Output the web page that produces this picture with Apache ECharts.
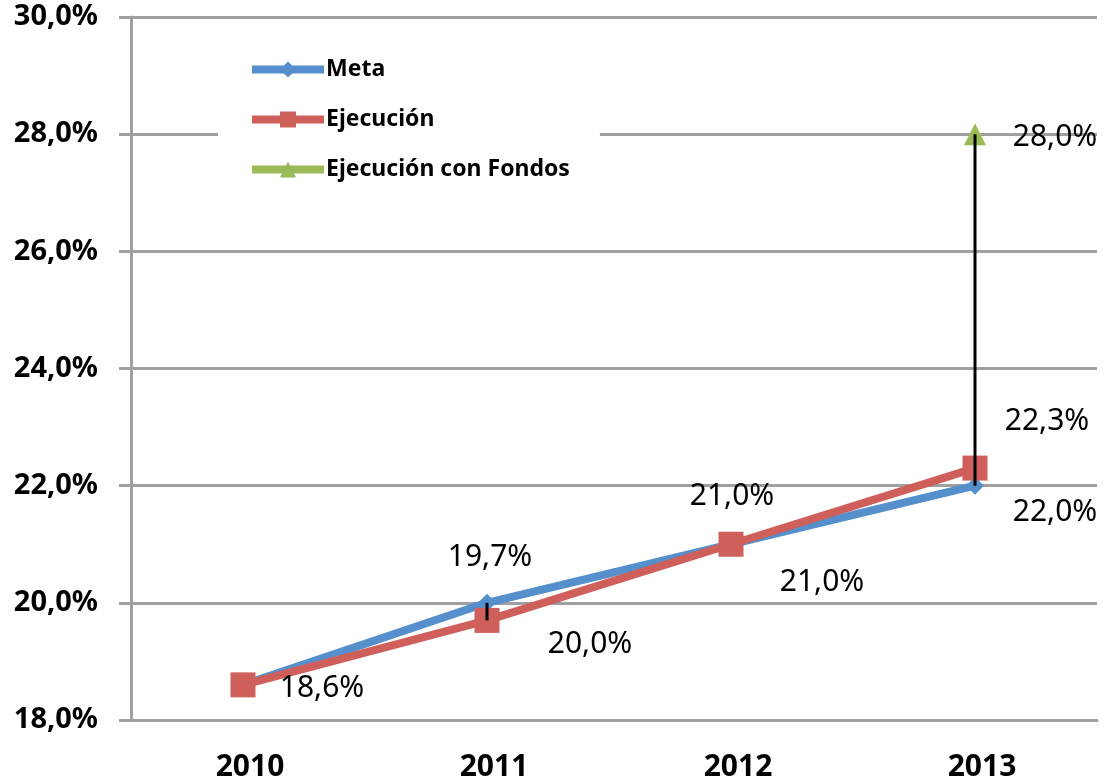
<!DOCTYPE html>
<html>
<head>
<meta charset="utf-8">
<script src="https://cdn.jsdelivr.net/npm/echarts@6/dist/echarts.min.js"></script>
<style>
  html, body { margin: 0; padding: 0; background: #fff; }
  #chart { width: 1118px; height: 782px; }
</style>
</head>
<body>
<div id="chart"></div>
<script>
// datos
const years = ['2010', '2011', '2012', '2013'];
const meta = [18.6, 20.0, 21.0, 22.0];
const ejecucion = [18.6, 19.7, 21.0, 22.3];
const conFondos = [null, null, null, 28.0];
const yMin = 18, yMax = 30, yStep = 2;

const fmt = v => v.toFixed(1).replace('.', ',') + '%';

// label placement (offset from point, px)
const metaLabelOff = [null, [103, 42], [91, 38], [80, 27]];
const ejecLabelOff = [[79, 4], [3, -63], [1, -48], [72, -47]];
const fondosLabelOff = [null, null, null, [80, 3]];

const labelStyle = {
  show: true,
  position: 'inside',
  color: '#000',
  fontSize: 30,
  fontFamily: 'Noto Sans',
  formatter: p => fmt(p.value)
};

function buildData(values, offsets) {
  return values.map((v, i) => {
    if (v == null) return null;
    const off = offsets[i];
    return {
      value: v,
      label: off ? Object.assign({}, labelStyle, { offset: off }) : { show: false }
    };
  });
}

// high-low line per category
const hiLo = years.map((y, i) => {
  const vals = [meta[i], ejecucion[i], conFondos[i]].filter(v => v != null);
  return [i, Math.min(...vals), Math.max(...vals)];
});

const myChart = echarts.init(document.getElementById('chart'));
const option = {
  animation: false,
  textStyle: { fontFamily: 'Noto Sans' },
  grid: { left: 121, right: 21, top: 17, bottom: 62 },
  legend: {
    orient: 'vertical',
    left: 218,
    top: 46,
    padding: [12, 30, 12, 30],
    backgroundColor: '#fff',
    itemWidth: 72,
    itemHeight: 20,
    itemGap: 27,
    lineStyle: { width: 8 },
    textStyle: { fontSize: 23, fontWeight: 'bold', color: '#000', fontFamily: 'Noto Sans', padding: [0, 0, 0, -3] },
    data: ['Meta', 'Ejecución', 'Ejecución con Fondos']
  },
  xAxis: {
    type: 'category',
    data: years,
    boundaryGap: true,
    axisLine: { lineStyle: { color: '#a0a0a0', width: 3 } },
    axisTick: { show: false },
    axisLabel: { color: '#000', fontSize: 30, fontWeight: 'bold', margin: 32, fontFamily: 'Noto Sans', padding: [0, 0, 0, 14] }
  },
  yAxis: {
    type: 'value',
    min: yMin,
    max: yMax,
    interval: yStep,
    offset: -10,
    axisLine: { show: true, lineStyle: { color: '#a0a0a0', width: 3 } },
    axisTick: { show: true, length: 12, lineStyle: { color: '#a0a0a0', width: 3 } },
    splitLine: { lineStyle: { color: '#a0a0a0', width: 3 } },
    axisLabel: { color: '#000', fontSize: 29, fontWeight: 'bold', margin: 33, fontFamily: 'Noto Sans', formatter: fmt }
  },
  series: [
    {
      name: 'Meta',
      type: 'line',
      data: buildData(meta, metaLabelOff),
      color: '#5590cc',
      lineStyle: { width: 8, color: '#5590cc' },
      symbol: 'diamond',
      symbolSize: 18,
      z: 3
    },
    {
      name: 'Ejecución',
      type: 'line',
      data: buildData(ejecucion, ejecLabelOff),
      color: '#cf5f5b',
      lineStyle: { width: 8, color: '#cf5f5b' },
      symbol: 'rect',
      symbolSize: 25,
      z: 4
    },
    {
      name: 'Ejecución con Fondos',
      type: 'line',
      data: buildData(conFondos, fondosLabelOff),
      color: '#9bbb59',
      lineStyle: { width: 8, color: '#9bbb59' },
      symbol: 'triangle',
      symbolSize: 22,
      z: 4
    },
    {
      name: 'hilo',
      type: 'custom',
      data: hiLo,
      z: 6,
      silent: true,
      renderItem: (params, api) => {
        const a = api.coord([api.value(0), api.value(1)]);
        const b = api.coord([api.value(0), api.value(2)]);
        return {
          type: 'line',
          shape: { x1: a[0], y1: a[1], x2: b[0], y2: b[1] },
          style: { stroke: '#000', lineWidth: 3 }
        };
      }
    }
  ]
};
myChart.setOption(option);
</script>
</body>
</html>
